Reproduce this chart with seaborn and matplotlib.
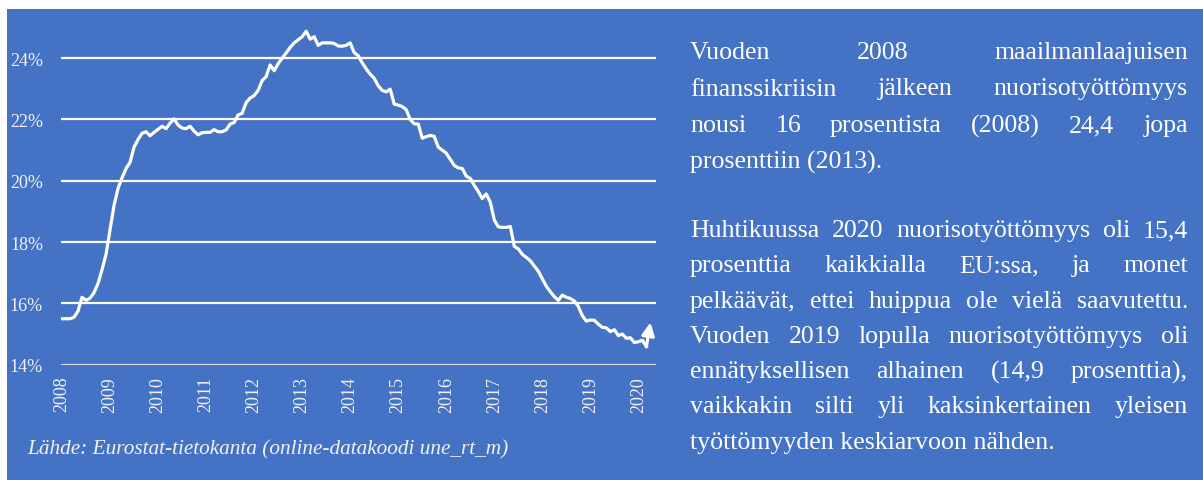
import numpy as np
import pandas as pd
import seaborn as sns
import matplotlib.pyplot as plt
from matplotlib.patches import Rectangle

# youth unemployment (%), monthly Jan 2008 - Apr 2020
rate = [15.5, 15.5, 15.5, 15.55, 15.75, 16.2, 16.1, 16.17, 16.35, 16.65, 17.1, 17.6,
        18.4, 19.2, 19.75, 20.1, 20.4, 20.6, 21.1, 21.35, 21.55, 21.6, 21.47, 21.58,
        21.68, 21.78, 21.7, 21.88, 22.02, 21.82, 21.72, 21.7, 21.78, 21.62, 21.5, 21.57,
        21.58, 21.58, 21.67, 21.6, 21.6, 21.66, 21.85, 21.9, 22.15, 22.2, 22.55, 22.7,
        22.78, 22.95, 23.27, 23.4, 23.78, 23.59, 23.82, 24.0, 24.17, 24.35, 24.5, 24.6,
        24.7, 24.88, 24.62, 24.7, 24.42, 24.5, 24.5, 24.5, 24.48, 24.4, 24.39, 24.42,
        24.5, 24.18, 24.08, 23.85, 23.65, 23.48, 23.34, 23.1, 22.95, 22.9, 22.99, 22.5,
        22.47, 22.42, 22.32, 22.0, 21.86, 21.85, 21.39, 21.44, 21.48, 21.45, 21.1, 21.0,
        20.9, 20.7, 20.5, 20.42, 20.4, 20.15, 20.08, 19.85, 19.65, 19.42, 19.57, 19.3,
        18.72, 18.5, 18.48, 18.48, 18.51, 17.86, 17.78, 17.6, 17.5, 17.39, 17.22, 17.05,
        16.8, 16.56, 16.38, 16.22, 16.1, 16.27, 16.2, 16.16, 16.08, 15.9, 15.6, 15.42,
        15.46, 15.45, 15.32, 15.22, 15.2, 15.08, 15.14, 14.95, 15.0, 14.86, 14.88, 14.72,
        14.75, 14.8, 14.59, 15.38]
years = list(range(2008, 2021))
yticks = [14, 16, 18, 20, 22, 24]

source = "Lähde: Eurostat-tietokanta (online-datakoodi une_rt_m)"
para1 = ["Vuoden 2008 maailmanlaajuisen",
         "finanssikriisin jälkeen nuorisotyöttömyys",
         "nousi 16 prosentista (2008) 24,4 jopa",
         "prosenttiin (2013)."]
para2 = ["Huhtikuussa 2020 nuorisotyöttömyys oli 15,4",
         "prosenttia kaikkialla EU:ssa, ja monet",
         "pelkäävät, ettei huippua ole vielä saavutettu.",
         "Vuoden 2019 lopulla nuorisotyöttömyys oli",
         "ennätyksellisen alhainen (14,9 prosenttia),",
         "vaikkakin silti yli kaksinkertainen yleisen",
         "työttömyyden keskiarvoon nähden."]

df = pd.DataFrame({'month': np.arange(len(rate)), 'rate': rate})

blue = '#4472C4'
W, H = 1203, 481
plt.rcParams['font.family'] = ['Liberation Serif', 'DejaVu Serif']

fig = plt.figure(figsize=(W / 100, H / 100), dpi=100, facecolor='white')
fig.patches.append(Rectangle((7 / W, 0), 1, 1 - 10 / H, transform=fig.transFigure,
                             facecolor=blue, edgecolor='none', zorder=-10))

ax = fig.add_axes([61 / W, 115.3 / H, 595 / W, 343.3 / H])
ax.set_facecolor('none')

sns.lineplot(data=df.iloc[:-1], x='month', y='rate', color='white', lw=2.3, ax=ax)
ax.annotate('', xy=(df.month.iloc[-1], df.rate.iloc[-1]),
            xytext=(df.month.iloc[-2], df.rate.iloc[-2]),
            arrowprops=dict(arrowstyle='-|>', color='white', lw=2.3, mutation_scale=19,
                            shrinkA=0, shrinkB=0))

ax.set_xlim(-0.25, 148.4)
ax.set_ylim(14, 25.2)
ax.set_yticks(yticks)
ax.set_yticklabels([f'{v}%' for v in yticks])
ax.set_xticks([12 * i for i in range(len(years))])
ax.set_xticklabels([str(y) for y in years], rotation=90)
ax.tick_params(length=0, colors='#F2F2F2', labelsize=13)
ax.tick_params(axis='y', pad=13)
ax.tick_params(axis='x', pad=8)
ax.set_xlabel('')
ax.set_ylabel('')
for s in ax.spines.values():
    s.set_visible(False)
for v in yticks:
    ax.axhline(v, color='#D9D9D9' if v == 14 else 'white', lw=1.6, zorder=0)

fig.text(27 / W, 1 - 450 / H, source, color='#F2F2F2', fontsize=15.3,
         style='italic', va='center')

# justified paragraph on the right
fig.canvas.draw()
r = fig.canvas.get_renderer()
x0, x1 = 690, 1188
fs = 18.6


def justify(lines, y_first, step):
    for i, line in enumerate(lines):
        y = 1 - (y_first + i * step) / H
        if i == len(lines) - 1:
            fig.text(x0 / W, y, line, color='white', fontsize=fs, va='center')
            continue
        words = line.split()
        ts = [fig.text(0, y, w, color='white', fontsize=fs, va='center') for w in words]
        widths = [t.get_window_extent(r).width for t in ts]
        gap = (x1 - x0 - sum(widths)) / (len(words) - 1)
        x = x0
        for t, w in zip(ts, widths):
            t.set_x(x / W)
            x += w + gap


justify(para1, 53, 36.5)
justify(para2, 231, 35.3)

fig.savefig('out.png', dpi=100, facecolor='white')
